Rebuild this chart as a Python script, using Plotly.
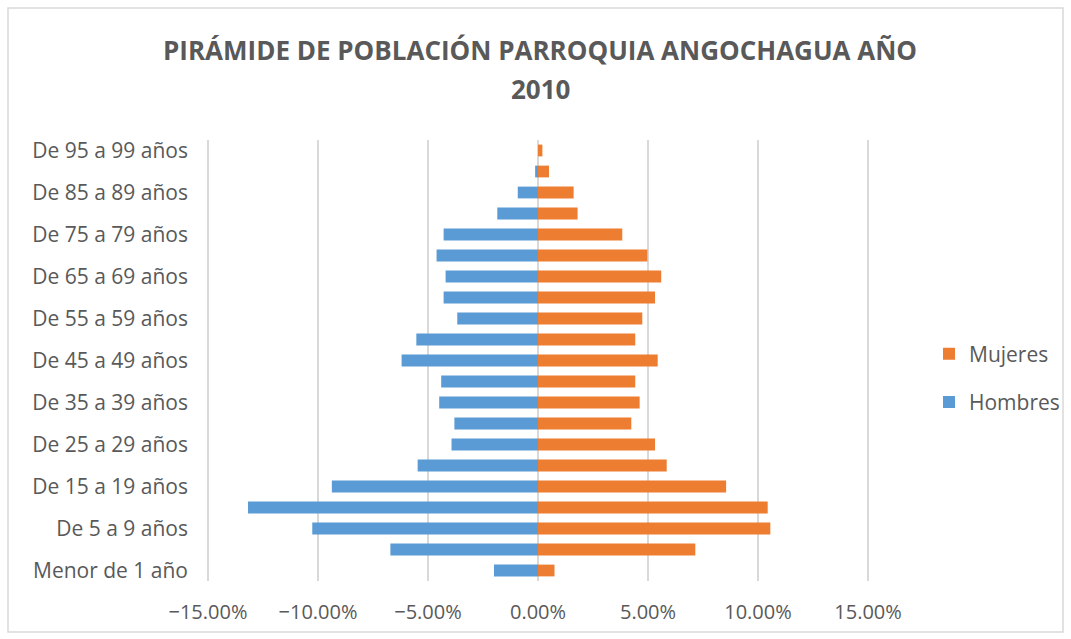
import plotly.graph_objects as go

categories = ["Menor de 1 año", "De 1 a 4 años", "De 5 a 9 años", "De 10 a 14 años",
              "De 15 a 19 años", "De 20 a 24 años", "De 25 a 29 años", "De 30 a 34 años",
              "De 35 a 39 años", "De 40 a 44 años", "De 45 a 49 años", "De 50 a 54 años",
              "De 55 a 59 años", "De 60 a 64 años", "De 65 a 69 años", "De 70 a 74 años",
              "De 75 a 79 años", "De 80 a 84 años", "De 85 a 89 años", "De 90 a 94 años",
              "De 95 a 99 años"]
hombres = [-0.0200, -0.0671, -0.1026, -0.1318, -0.0937, -0.0547, -0.0393, -0.0380,
           -0.0449, -0.0440, -0.0620, -0.0553, -0.0367, -0.0429, -0.0420, -0.0461,
           -0.0429, -0.0185, -0.0092, -0.0013, 0.0]
mujeres = [0.0075, 0.0715, 0.1056, 0.1044, 0.0855, 0.0585, 0.0532, 0.0424,
           0.0462, 0.0442, 0.0544, 0.0442, 0.0474, 0.0532, 0.0560, 0.0497,
           0.0383, 0.0180, 0.0162, 0.0050, 0.0020]
x_ticks = [-0.15, -0.10, -0.05, 0.0, 0.05, 0.10, 0.15]
title_lines = ["PIRÁMIDE DE POBLACIÓN PARROQUIA ANGOCHAGUA AÑO", "2010"]

GRAY = "#595959"
FONT = "Open Sans"

fig = go.Figure()
fig.add_trace(go.Bar(y=categories, x=mujeres, orientation="h", name="Mujeres",
                     legendgroup="m", legendrank=1,
                     marker=dict(color="#ED7D31", line=dict(width=0))))
fig.add_trace(go.Bar(y=categories, x=hombres, orientation="h", name="Hombres",
                     legendgroup="h", legendrank=2,
                     marker=dict(color="#5B9BD5", line=dict(width=0))))

W, H = 1071, 639
L, R, T, B = 206, 201, 140, 58
pw, ph = W - L - R, H - T - B

def px_x(p):
    return (p - L) / pw

def px_y(p):
    return (H - B - p) / ph

annotations = [
    dict(text="<b>%s</b>" % title_lines[0], xref="paper", yref="paper",
         x=px_x(540), y=px_y(50), xanchor="center", yanchor="middle",
         showarrow=False, font=dict(family=FONT, size=26, color=GRAY)),
    dict(text="<b>%s</b>" % title_lines[1], xref="paper", yref="paper",
         x=px_x(540), y=px_y(89), xanchor="center", yanchor="middle",
         showarrow=False, font=dict(family=FONT, size=26, color=GRAY)),
]

fig.update_layout(
    width=W, height=H,
    margin=dict(l=L, r=R, t=T, b=B, autoexpand=False),
    paper_bgcolor="white", plot_bgcolor="white",
    barmode="overlay", bargap=0.44,
    font=dict(family=FONT, color=GRAY, size=21),
    annotations=annotations,
    xaxis=dict(range=[-0.1509, 0.1509], tickvals=x_ticks, tickformat=".2%",
               showgrid=True, gridcolor="#D9D9D9", gridwidth=1.5,
               zeroline=True, zerolinecolor="#D9D9D9", zerolinewidth=1.5,
               showline=False, ticks="", tickfont=dict(size=20, color=GRAY),
               ticklabelstandoff=17, fixedrange=True, automargin=False),
    yaxis=dict(type="category", categoryorder="array", categoryarray=categories,
               tickvals=categories[::2], showgrid=False, showline=False, ticks="",
               ticklabelstandoff=17, tickfont=dict(size=21, color=GRAY),
               automargin=False, fixedrange=True),
    legend=dict(x=px_x(929), y=px_y(378), xanchor="left", yanchor="middle",
                traceorder="grouped", font=dict(size=21, color=GRAY),
                itemwidth=30, tracegroupgap=18, bgcolor="rgba(0,0,0,0)"),
    shapes=[dict(type="rect", xref="paper", yref="paper",
                 x0=px_x(8), x1=px_x(1063), y0=px_y(632), y1=px_y(8),
                 line=dict(color="#D9D9D9", width=1.5), fillcolor="rgba(0,0,0,0)",
                 layer="below")],
)

fig.write_html("out.html", config={"displayModeBar": False},
               post_script="document.body.style.margin='0';")
